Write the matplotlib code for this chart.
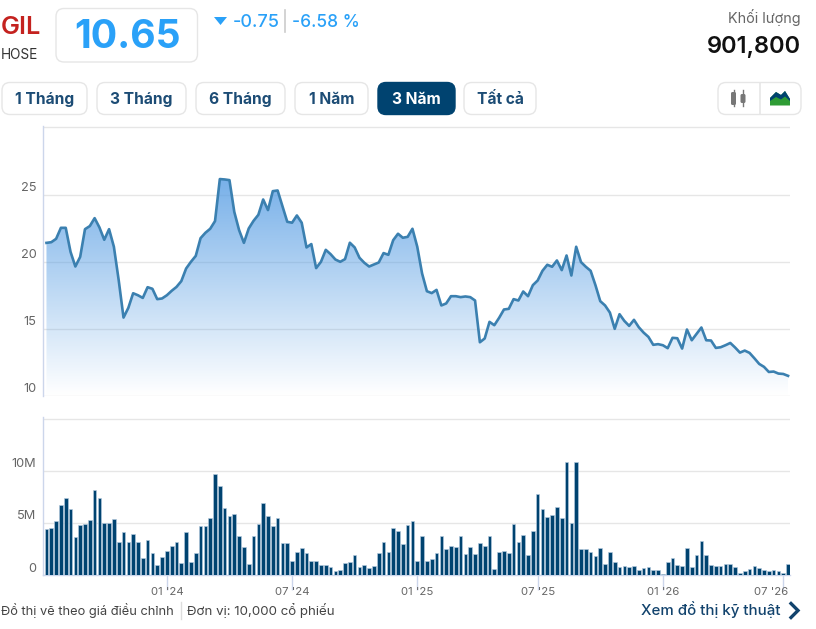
import numpy as np
import matplotlib
matplotlib.use("Agg")
import matplotlib.pyplot as plt
from matplotlib.patches import FancyBboxPatch, Polygon
from matplotlib.transforms import ScaledTranslation

plt.rcParams['font.family'] = ['Inter', 'DejaVu Sans']

# Weekly adjusted closing price
price = [
    21.40, 21.45, 21.70, 22.52, 22.52, 20.73, 19.64, 20.36, 22.42, 22.65,
    23.24, 22.55, 21.63, 22.42, 21.11, 18.62, 15.84, 16.56, 17.65, 17.50,
    17.30, 18.10, 17.98, 17.21, 17.26, 17.50, 17.83, 18.12, 18.55, 19.49,
    19.99, 20.43, 21.75, 22.15, 22.45, 23.02, 26.15, 26.12, 26.07, 23.71,
    22.35, 21.40, 22.47, 23.04, 23.49, 24.63, 23.84, 25.25, 25.30, 24.14,
    22.97,
    22.90, 23.44, 22.90, 21.06, 21.31, 19.52, 19.99, 20.88, 20.56, 20.16,
    19.99, 20.19, 21.41, 21.06, 20.29, 19.92, 19.64, 19.79, 19.94, 20.64,
    20.51, 21.60, 22.08, 21.78, 21.85, 22.45, 21.11, 19.12, 17.80, 17.66,
    17.90, 16.74, 16.89, 17.43, 17.43, 17.36, 17.41, 17.36, 17.11, 14.00,
    14.28, 15.52, 15.27, 15.82, 16.44, 16.49, 17.21, 17.11, 17.78, 17.43,
    18.25, 18.60,
    19.32, 19.77, 19.62, 20.09, 19.37, 20.46, 18.97, 21.11, 19.97, 19.62,
    19.32, 18.25, 17.06, 16.74, 16.21, 15.00, 16.09, 15.59, 15.22, 15.67,
    15.12, 14.72, 14.40, 13.81, 13.86, 13.78, 13.56, 14.33, 14.30, 13.53,
    14.95, 14.15, 14.63, 15.10, 14.15, 14.13, 13.58, 13.63, 13.78, 13.95,
    13.61, 13.23, 13.38, 13.21, 12.81, 12.39, 12.17, 11.79, 11.82, 11.67,
    11.64, 11.50,
]

# Weekly traded volume, in millions of shares
volume = [
    4.44, 4.54, 5.18, 6.68, 7.41, 6.33, 3.61, 4.76, 4.86, 5.30,
    8.15, 7.41, 5.02, 5.02, 5.40, 3.19, 4.12, 3.19, 3.93, 3.19,
    1.60, 3.32, 2.14, 0.96, 1.69, 2.33, 2.78, 3.19, 1.18, 4.12,
    1.28, 2.14, 4.66, 4.66, 5.50, 9.71, 8.56, 6.45, 5.62, 5.81,
    3.71, 2.65, 1.05, 3.71, 4.86, 6.87, 5.62, 4.66, 5.50,
    3.07, 3.07, 1.37, 2.24, 2.56, 2.14, 1.37, 1.37, 0.96, 0.96,
    0.73, 0.35, 0.45, 1.15, 1.28, 1.92, 0.73, 0.96, 0.64, 0.86,
    2.14, 3.19, 2.24, 4.54, 4.22, 2.97, 4.76, 5.18, 1.37, 3.71,
    1.37, 1.50, 2.14, 3.71, 2.46, 2.75, 2.65, 3.71, 2.01, 2.65,
    2.01, 3.07, 2.75, 3.71, 0.54, 2.24, 2.33, 2.14, 4.86, 3.19,
    3.80, 1.92, 4.22, 7.73, 6.33, 5.59,
    5.72, 6.55, 5.50, 10.86, 4.98, 10.86, 2.46, 2.46, 2.24, 1.82,
    2.56, 1.09, 2.24, 1.28, 0.77, 0.86, 0.77, 0.86, 0.45, 0.64,
    0.77, 0.45, 0.45, 0.10, 1.28, 1.60, 0.96, 0.86, 2.56, 0.77,
    1.92, 3.29, 1.92, 0.96, 0.86, 0.86, 1.09, 1.09, 0.77, 0.22,
    0.35, 0.54, 0.86, 0.64, 0.45, 0.35, 0.45, 0.35, 0.22, 1.09,
]

date_ticks = [25, 51, 77, 102, 128, 153]
date_labels = ["01 '24", "07 '24", "01 '25", "07 '25", "01 '26", "07 '26"]
price_ticks = [10, 15, 20, 25, 30]
price_tick_labels = ["10", "15", "20", "25", ""]
volume_ticks = [0, 5, 10, 15]
volume_tick_labels = ["0", "5M", "10M", ""]

range_buttons = ["1 Tháng", "3 Tháng", "6 Tháng", "1 Năm", "3 Năm", "Tất cả"]
button_spans = [(2, 87), (97, 186), (196, 285), (295, 368), (378, 455), (464, 536)]
active_button = "3 Năm"

W, H = 816, 629
NAVY = "#004370"
GRID = "#e6e6e6"
AXIS = "#ccd6eb"
LABEL = "#666666"
BLUE = "#2aa1f8"

fig = plt.figure(figsize=(W / 100, H / 100), dpi=100, facecolor="white")


def axes_px(left, top, right, bottom):
    return fig.add_axes([left / W, 1 - bottom / H, (right - left) / W, (bottom - top) / H])


x = np.arange(len(price))
xlim = (-0.72, 154.4)

# Price panel: line over a vertical gradient fill
ax = axes_px(43, 126, 790, 396)
ax.set_xlim(*xlim)
ax.set_ylim(10, 30.1)
ax.set_yticks(price_ticks, price_tick_labels)
ax.set_xticks([])
ax.grid(axis="y", color=GRID, lw=1)
ax.set_axisbelow(True)
ax.tick_params(axis="y", length=0, pad=6.5, labelsize=9.2, labelcolor=LABEL)
for t in ax.get_yticklabels():
    t.set_va("bottom")
    t.set_transform(t.get_transform() + ScaledTranslation(2.5 / 100, 0.5 / 100, fig.dpi_scale_trans))
for s in ("top", "right", "bottom"):
    ax.spines[s].set_visible(False)
ax.spines["left"].set_color(AXIS)
ax.spines["left"].set_linewidth(1)

alpha = np.linspace(0.82, 0.0, 256)[:, None]
rgba = np.zeros((256, 1, 4))
rgba[..., 0], rgba[..., 1], rgba[..., 2] = 0.353, 0.624, 0.898
rgba[..., 3] = alpha
top_price = max(price)
img = ax.imshow(rgba, extent=(x[0], x[-1], 10, top_price), origin="upper",
                aspect="auto", zorder=1.5, interpolation="bilinear")
outline = np.column_stack([np.r_[x[0], x, x[-1]], np.r_[10, price, 10]])
clip = Polygon(outline, closed=True, transform=ax.transData, fc="none", ec="none")
ax.add_patch(clip)
img.set_clip_path(clip)
ax.set_xlim(*xlim)
ax.set_ylim(10, 30.1)
ax.plot(x, price, color="#3b80b0", lw=1.9, zorder=3, solid_joinstyle="round")

# Volume panel
vx = axes_px(43, 417, 790, 575)
vx.set_xlim(*xlim)
vx.set_ylim(0, 15.15)
vx.bar(x, volume, width=0.76, color=NAVY, edgecolor="#b4cade", linewidth=0.45, zorder=3)
vx.set_yticks(volume_ticks, volume_tick_labels)
vx.set_xticks(date_ticks, date_labels)
vx.grid(axis="y", color=GRID, lw=1)
vx.set_axisbelow(True)
vx.tick_params(axis="y", length=0, pad=6.5, labelsize=9.2, labelcolor=LABEL)
vx.tick_params(axis="x", length=11, width=1, color=AXIS, pad=-2.4, labelsize=8.2, labelcolor=LABEL)
for t in vx.get_yticklabels():
    t.set_va("bottom")
    t.set_transform(t.get_transform() + ScaledTranslation(2.5 / 100, 0.5 / 100, fig.dpi_scale_trans))
# The last date label sits left of its tick so it stays inside the panel
last = vx.get_xticklabels()[-1]
last.set_ha("right")
last.set_transform(last.get_transform() + ScaledTranslation(5 / 100, 0, fig.dpi_scale_trans))
for s in ("top", "right"):
    vx.spines[s].set_visible(False)
for s in ("left", "bottom"):
    vx.spines[s].set_color(AXIS)
    vx.spines[s].set_linewidth(1)

# Page furniture drawn in pixel coordinates
ui = fig.add_axes([0, 0, 1, 1], zorder=5)
ui.set_xlim(0, W)
ui.set_ylim(H, 0)
ui.axis("off")


def box(x0, y0, x1, y1, fc="white", ec=GRID, r=8):
    ui.add_patch(FancyBboxPatch((x0, y0), x1 - x0, y1 - y0,
                                boxstyle=f"round,pad=0,rounding_size={r}",
                                fc=fc, ec=ec, lw=1))


ui.text(1, 33.5, "GIL", fontsize=18.2, color="#c4221f", weight="semibold", va="baseline", ha="left")
ui.text(1, 59, "HOSE", fontsize=9.8, color="#333333", va="baseline", ha="left")
box(56, 8.5, 197.5, 62)
ui.text(127, 48.5, "10.65", fontsize=28.2, color=BLUE, weight="bold", va="baseline", ha="center")
ui.add_patch(Polygon([(214, 17), (227, 17), (220.5, 25)], closed=True, fc=BLUE, ec="none"))
ui.text(233, 27, "-0.75", fontsize=13, color=BLUE, weight="medium", va="baseline", ha="left")
ui.plot([285, 285], [10, 32], color="#cccccc", lw=1.2)
ui.text(292, 27, "-6.58 %", fontsize=12.4, color=BLUE, weight="medium", va="baseline", ha="left")
ui.text(801, 23.5, "Khối lượng", fontsize=10.4, color=LABEL, va="baseline", ha="right")
ui.text(801.5, 53.5, "901,800", fontsize=17, color="#111111", weight="semibold", va="baseline", ha="right")

for label, (x0, x1) in zip(range_buttons, button_spans):
    on = label == active_button
    box(x0, 82.5, x1, 114.5, fc=NAVY if on else "white", ec=NAVY if on else GRID)
    ui.text((x0 + x1) / 2, 104, label, fontsize=11.2, weight="bold",
            color="white" if on else "#1c4c75", va="baseline", ha="center")

# Chart-type switch with candlestick and mountain icons
box(718, 82.5, 801, 114.5)
ui.plot([759.5, 759.5], [83, 114], color=GRID, lw=1.2)
for cx, (y0, y1), (t, b) in [(733.5, (90, 106), (92, 105)), (743, (90, 106), (94, 103))]:
    ui.plot([cx, cx], [y0, y1], color="#777777", lw=1)
    ui.add_patch(FancyBboxPatch((cx - 2.5, t), 5, b - t, boxstyle="round,pad=0,rounding_size=1.5",
                                fc="#777777", ec="none"))
ui.add_patch(Polygon([(770, 105.5), (770, 98), (776, 92), (781, 95), (785, 91), (790, 99), (790, 105.5)],
                     closed=True, fc="#2e9c35", ec="none"))
ui.add_patch(Polygon([(770, 98), (776, 92), (781, 95), (785, 91), (790, 99), (790, 101),
                      (785, 96.5), (781, 99.5), (776, 97), (770, 101)],
                     closed=True, fc=NAVY, ec="none"))

ui.text(1, 615, "Đồ thị vẽ theo giá điều chỉnh", fontsize=9.25, color="#444444", va="baseline", ha="left")
ui.plot([181, 181], [602, 619], color="#dddddd", lw=1)
ui.text(187, 615, "Đơn vị: 10,000 cổ phiếu", fontsize=9.55, color="#444444", va="baseline", ha="left")
ui.text(641, 615.5, "Xem đồ thị kỹ thuật", fontsize=10.8, color="#12436d", weight="medium", va="baseline", ha="left")
ui.plot([791, 798, 791], [603.5, 610.5, 617.5], color="#12436d", lw=2.4, solid_joinstyle="miter")

fig.savefig("out.png", dpi=100)
